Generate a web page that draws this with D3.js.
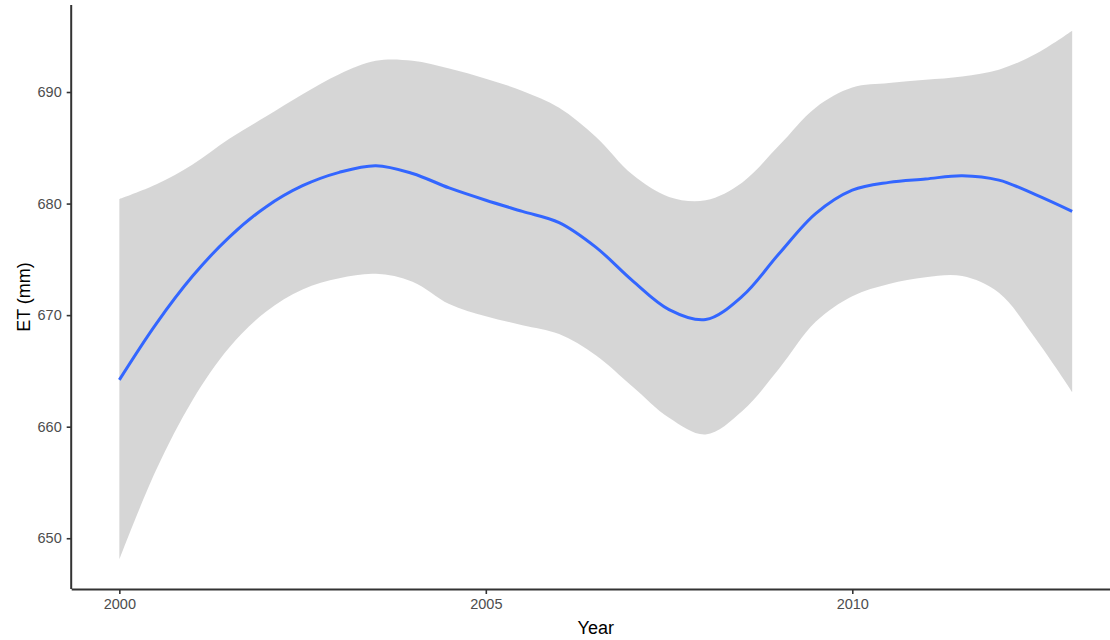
<!DOCTYPE html>
<html>
<head>
<meta charset="utf-8">
<script src="https://cdn.jsdelivr.net/npm/d3@7"></script>
<style>
  html, body { margin: 0; padding: 0; background: #fff; }
  svg { display: block; }
  text { font-family: "Liberation Sans", Arial, Helvetica, sans-serif; }
</style>
</head>
<body>
<svg id="chart" width="1110" height="640"></svg>
<script>
// Smoothed annual evapotranspiration with its confidence band
const years = [2000, 2000.5, 2001, 2001.5, 2002, 2002.5, 2003, 2003.5, 2004, 2004.5,
               2005, 2005.5, 2006, 2006.5, 2007, 2007.5, 2008, 2008.5, 2009, 2009.5,
               2010, 2010.5, 2011, 2011.5, 2012, 2012.5, 2013];
const fitValues = [664.2, 669.2, 673.5, 677.0, 679.7, 681.6, 682.8, 683.4, 682.7, 681.4,
                   680.3, 679.3, 678.3, 676.1, 673.1, 670.5, 669.6, 671.7, 675.5, 679.1,
                   681.2, 681.9, 682.2, 682.5, 682.1, 680.8, 679.3];
const upperValues = [680.4, 681.7, 683.5, 685.8, 687.8, 689.8, 691.6, 692.8, 692.8, 692.1,
                     691.2, 690.1, 688.6, 686.0, 682.6, 680.6, 680.3, 681.9, 685.2, 688.6,
                     690.4, 690.8, 691.1, 691.4, 692.0, 693.4, 695.5];
const lowerValues = [648.1, 656.1, 662.4, 667.1, 670.3, 672.3, 673.3, 673.7, 673.0, 671.0,
                     669.9, 669.1, 668.3, 666.4, 663.6, 660.8, 659.3, 661.4, 665.2, 669.4,
                     671.7, 672.8, 673.4, 673.5, 672.0, 667.9, 663.1];
const xTicks = [2000, 2005, 2010];
const yTicks = [650, 660, 670, 680, 690];

const rows = years.map((yr, i) => ({ yr, fit: fitValues[i], lo: lowerValues[i], hi: upperValues[i] }));

const svg = d3.select("#chart");
const panel = { left: 71.7, right: 1119.8, top: 5, bottom: 589 };

const x = d3.scaleLinear().domain([1999.35, 2013.65]).range([panel.left, panel.right]);
const y = d3.scaleLinear().domain([645.45, 697.8]).range([panel.bottom, panel.top]);

const smooth = d3.curveCatmullRom.alpha(0.5);

// confidence ribbon
svg.append("path")
  .datum(rows)
  .attr("fill", "#999999")
  .attr("fill-opacity", 0.4)
  .attr("d", d3.area()
    .x(d => x(d.yr))
    .y0(d => y(d.lo))
    .y1(d => y(d.hi))
    .curve(smooth));

// fitted line
svg.append("path")
  .datum(rows)
  .attr("fill", "none")
  .attr("stroke", "#3366FF")
  .attr("stroke-width", 3)
  .attr("stroke-linejoin", "round")
  .attr("d", d3.line()
    .x(d => x(d.yr))
    .y(d => y(d.fit))
    .curve(smooth));

// axes
const xAxis = svg.append("g")
  .attr("transform", `translate(0,${panel.bottom})`)
  .call(d3.axisBottom(x).tickValues(xTicks).tickFormat(d3.format("d")).tickSize(5).tickPadding(5));
const yAxis = svg.append("g")
  .attr("transform", `translate(${panel.left},0)`)
  .call(d3.axisLeft(y).tickValues(yTicks).tickFormat(d3.format("d")).tickSize(5).tickPadding(5));

[xAxis, yAxis].forEach(g => {
  g.select(".domain").attr("stroke", "#333333").attr("stroke-width", 2);
  g.selectAll(".tick line").attr("stroke", "#333333").attr("stroke-width", 1.6);
  g.selectAll(".tick text")
    .attr("fill", "#4D4D4D")
    .style("font-size", "14.5px")
    .style("font-family", "'Liberation Sans', Arial, Helvetica, sans-serif");
});
// straight axis lines without the end caps
xAxis.select(".domain").attr("d", `M${panel.left},0.5H${panel.right}`);
yAxis.select(".domain").attr("d", `M-0.5,${panel.bottom}V${panel.top}`);

// axis titles
svg.append("text")
  .attr("x", (panel.left + panel.right) / 2)
  .attr("y", 634)
  .attr("text-anchor", "middle")
  .attr("fill", "#000")
  .style("font-size", "18px")
  .text("Year");

svg.append("text")
  .attr("transform", `translate(30,${(panel.top + panel.bottom) / 2}) rotate(-90)`)
  .attr("text-anchor", "middle")
  .attr("fill", "#000")
  .style("font-size", "18px")
  .text("ET (mm)");
</script>
</body>
</html>
